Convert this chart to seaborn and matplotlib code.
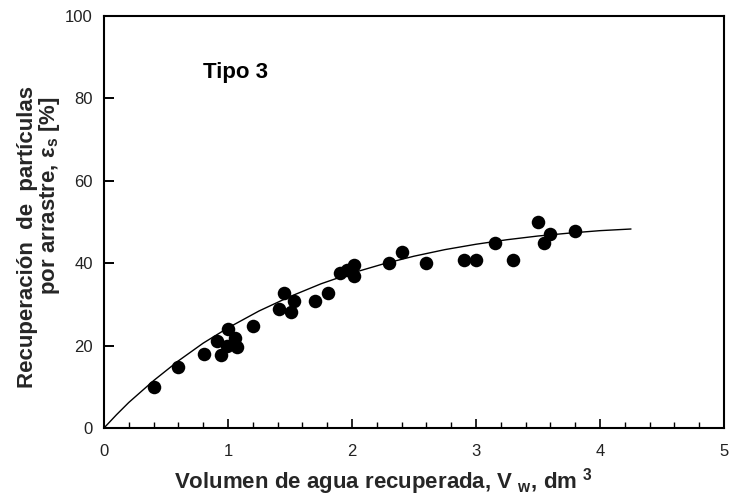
import matplotlib
matplotlib.use("Agg")
import matplotlib.pyplot as plt
from matplotlib.ticker import MultipleLocator
import pandas as pd
import seaborn as sns

# Measured points: recovered water volume (dm3) vs. entrainment recovery (%)
volumen = [0.40, 0.60, 0.81, 0.91, 0.94, 0.99, 1.00, 1.06, 1.07, 1.20,
           1.41, 1.45, 1.51, 1.53, 1.70, 1.81, 1.90, 1.96, 2.02, 2.02,
           2.30, 2.40, 2.60, 2.90, 3.00, 3.15, 3.30, 3.50, 3.55, 3.60, 3.80]
recuperacion = [9.9, 14.7, 18.0, 21.0, 17.7, 20.0, 24.0, 21.8, 19.7, 24.8,
                28.8, 32.8, 28.2, 30.8, 30.9, 32.8, 37.6, 38.3, 39.6, 36.9,
                40.0, 42.6, 40.0, 40.8, 40.8, 45.0, 40.8, 49.9, 44.8, 47.0, 47.8]

# Trend line through the data
curva_x = [0.0, 0.1, 0.2, 0.4, 0.6, 0.8, 1.0, 1.25, 1.5, 1.75, 2.0,
           2.25, 2.5, 2.75, 3.0, 3.25, 3.5, 3.75, 4.0, 4.25]
curva_y = [0.0, 3.2, 6.2, 11.5, 16.3, 20.6, 24.3, 28.4, 31.9, 35.0, 37.6,
           39.8, 41.7, 43.3, 44.6, 45.7, 46.6, 47.3, 47.9, 48.3]

x_ticks = [0, 1, 2, 3, 4, 5]
y_ticks = [0, 20, 40, 60, 80, 100]

sns.set_theme(style="white")
plt.rcParams["font.family"] = ["Liberation Sans", "DejaVu Sans"]
plt.rcParams["mathtext.fontset"] = "custom"
plt.rcParams["mathtext.rm"] = "Liberation Sans:bold"
plt.rcParams["mathtext.bf"] = "Liberation Sans:bold"
plt.rcParams["mathtext.it"] = "Liberation Sans:bold"

puntos = pd.DataFrame({"V": volumen, "E": recuperacion})
curva = pd.DataFrame({"V": curva_x, "E": curva_y})

W, H = 731, 498
fig = plt.figure(figsize=(W / 100, H / 100), dpi=100)
ax = fig.add_axes([104 / W, 1 - 428 / H, 620 / W, 412 / H])

sns.lineplot(data=curva, x="V", y="E", color="black", linewidth=1.0,
             estimator=None, sort=True, ax=ax, zorder=2)
sns.scatterplot(data=puntos, x="V", y="E", color="black", s=95,
                edgecolor="black", linewidth=0, ax=ax, zorder=3)

ax.set_xlim(0, 5)
ax.set_ylim(0, 100)
ax.set_xticks(x_ticks)
ax.set_yticks(y_ticks)
ax.xaxis.set_minor_locator(MultipleLocator(0.2))
ax.tick_params(axis="x", which="major", direction="in", length=6.5, width=1.2,
               labelsize=12, pad=11.5, colors="black", labelcolor="#222222")
ax.tick_params(axis="x", which="minor", direction="in", length=4.2, width=1.0,
               colors="black")
ax.tick_params(axis="x", which="both", bottom=True, top=False)
ax.tick_params(axis="y", which="major", direction="in", length=7, width=1.4,
               labelsize=12, pad=8, left=True, right=False, colors="black",
               labelcolor="#222222")

for side in ["left", "bottom", "top", "right"]:
    ax.spines[side].set_visible(True)
    ax.spines[side].set_color("black")
    ax.spines[side].set_linewidth(1.5)

ax.set_xlabel(r"Volumen de agua recuperada, V $_{\mathbf{w}}$, dm $^{\mathbf{3}}$",
              fontsize=16, fontweight="bold", labelpad=5)
ax.xaxis.label.set_x((383 - 104) / 620)
ax.set_ylabel("")

# two-line y label, each line placed on its own
fig.text(28 / W, 1 - 237 / H, "Recuperación  de  partículas", rotation=90,
         fontsize=16, fontweight="bold", ha="center", va="center")
fig.text(50 / W, 1 - 196 / H, "por arrastre, ε$_{\\mathbf{s}}$ [%]", rotation=90,
         fontsize=16, fontweight="bold", ha="center", va="center")

ax.text(0.80, 85, "Tipo 3", fontsize=16, fontweight="bold", color="black")

fig.savefig("out.png", dpi=100, facecolor="white")
